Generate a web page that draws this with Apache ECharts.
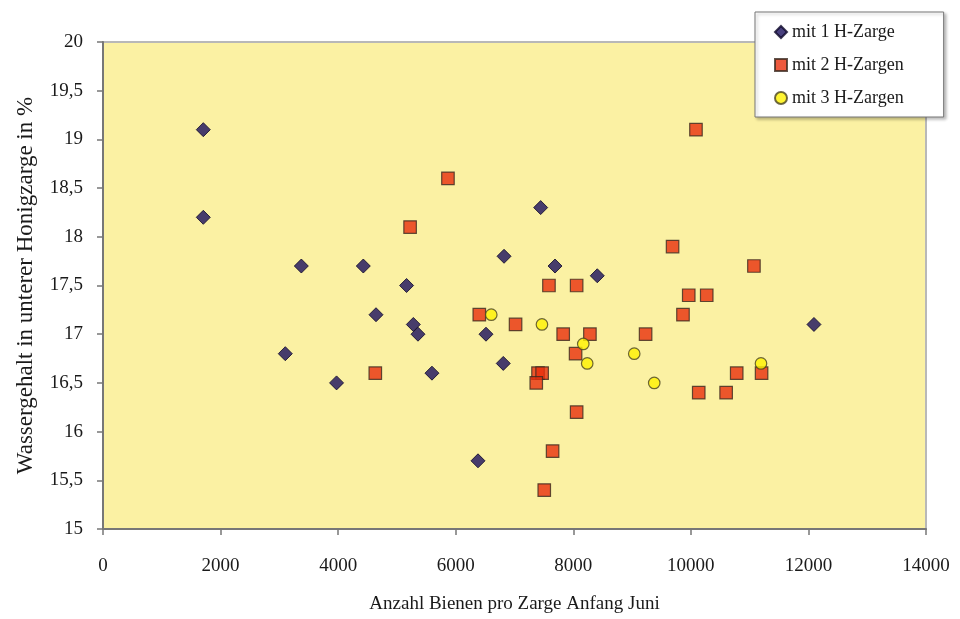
<!DOCTYPE html>
<html>
<head>
<meta charset="utf-8">
<script src="https://cdn.jsdelivr.net/npm/echarts@6/dist/echarts.min.js"></script>
<style>html,body{margin:0;padding:0;background:#fff}#c{width:960px;height:619px}</style>
</head>
<body>
<div id="c"></div>
<script>
// [Anzahl Bienen, Wassergehalt %]
var seriesNames = ['mit 1 H-Zarge', 'mit 2 H-Zargen', 'mit 3 H-Zargen'];
var einZarge = [
  [1706, 19.1], [1706, 18.2], [3374, 17.7], [4428, 17.7], [5164, 17.5],
  [6822, 17.8], [7445, 18.3], [7689, 17.7], [8408, 17.6], [4644, 17.2],
  [5279, 17.1], [5358, 17.0], [6515, 17.0], [3101, 16.8], [6809, 16.7],
  [5596, 16.6], [3973, 16.5], [6379, 15.7], [12094, 17.1]
];
var zweiZargen = [
  [5868, 18.6], [5224, 18.1], [10087, 19.1], [9689, 17.9], [11073, 17.7],
  [7586, 17.5], [8057, 17.5], [9964, 17.4], [10270, 17.4], [9866, 17.2],
  [6401, 17.2], [7018, 17.1], [7828, 17.0], [8283, 17.0], [9230, 17.0],
  [8039, 16.8], [4632, 16.6], [7400, 16.6], [7470, 16.6], [7370, 16.5],
  [10780, 16.6], [11203, 16.6], [10134, 16.4], [10600, 16.4], [8057, 16.2],
  [7648, 15.8], [7506, 15.4]
];
var dreiZargen = [
  [6605, 17.2], [7467, 17.1], [8170, 16.9], [8237, 16.7], [9037, 16.8],
  [9377, 16.5], [11193, 16.7]
];
var xAxisName = 'Anzahl Bienen pro Zarge Anfang Juni';
var yAxisName = 'Wassergehalt in unterer Honigzarge in %';

var font = '"Liberation Serif", "Times New Roman", serif';
var chart = echarts.init(document.getElementById('c'));
chart.setOption({
  animation: false,
  backgroundColor: '#ffffff',
  textStyle: { fontFamily: font },
  grid: {
    left: 103, top: 42, right: 34, bottom: 89,
    show: true, backgroundColor: '#fbf1a3', borderColor: '#b8b8b8', borderWidth: 2
  },
  legend: {
    orient: 'vertical',
    left: 755, top: 12,
    padding: [11, 40, 10, 19],
    itemGap: 15,
    itemWidth: 12, itemHeight: 12,
    backgroundColor: '#ffffff',
    borderColor: '#777777', borderWidth: 1,
    shadowColor: 'rgba(0,0,0,0.25)', shadowBlur: 3, shadowOffsetX: 2, shadowOffsetY: 2,
    textStyle: { fontFamily: font, fontSize: 18, color: '#1a1a1a' },
    data: [
      { name: seriesNames[0], icon: 'diamond' },
      { name: seriesNames[1], icon: 'rect' },
      { name: seriesNames[2], icon: 'circle' }
    ]
  },
  xAxis: {
    type: 'value', min: 0, max: 14000, interval: 2000,
    name: xAxisName, nameLocation: 'middle', nameGap: 66,
    nameTextStyle: { fontFamily: font, fontSize: 19, color: '#1a1a1a' },
    axisLine: { show: true, lineStyle: { color: '#777', width: 2 } },
    axisTick: { show: true, length: 6, lineStyle: { color: '#777', width: 1.5 } },
    axisLabel: {
      margin: 28, fontFamily: font, fontSize: 19, color: '#1a1a1a',
      formatter: function (v) { return String(v); }
    },
    splitLine: { show: false }
  },
  yAxis: {
    type: 'value', min: 15, max: 20, interval: 0.5,
    name: yAxisName, nameLocation: 'middle', nameGap: 66,
    nameTextStyle: { fontFamily: font, fontSize: 23, color: '#1a1a1a' },
    axisLine: { show: true, lineStyle: { color: '#777', width: 2 } },
    axisTick: { show: true, length: 6, lineStyle: { color: '#777', width: 1.5 } },
    axisLabel: {
      margin: 20, fontFamily: font, fontSize: 19, color: '#1a1a1a',
      formatter: function (v) { return String(v).replace('.', ','); }
    },
    splitLine: { show: false }
  },
  series: [
    {
      name: seriesNames[0], type: 'scatter', data: einZarge,
      symbol: 'diamond', symbolSize: 14,
      itemStyle: { color: '#1a0f5c', borderColor: '#0c0628', borderWidth: 1 }
    },
    {
      name: seriesNames[1], type: 'scatter', data: zweiZargen,
      symbol: 'rect', symbolSize: 12.5,
      itemStyle: { color: '#e8300c', borderColor: '#3a2a20', borderWidth: 1.2 }
    },
    {
      name: seriesNames[2], type: 'scatter', data: dreiZargen,
      symbol: 'circle', symbolSize: 11.5,
      itemStyle: { color: '#fff200', borderColor: '#4a4420', borderWidth: 1.2 }
    }
  ]
});
</script>
</body>
</html>
